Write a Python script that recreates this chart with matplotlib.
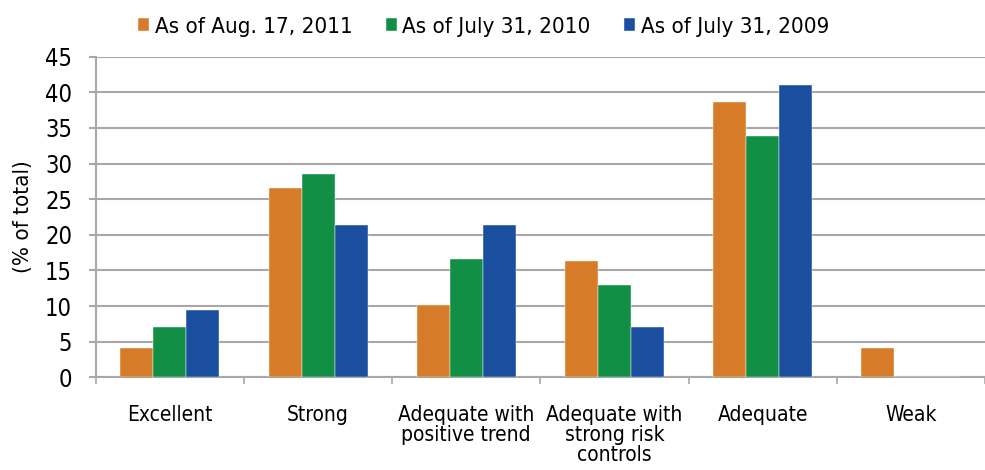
import matplotlib
matplotlib.use("Agg")
import matplotlib.pyplot as plt
import numpy as np

categories = ["Excellent", "Strong", "Adequate with\npositive trend",
              "Adequate with\nstrong risk\ncontrols", "Adequate", "Weak"]
series_names = ["As of Aug. 17, 2011", "As of July 31, 2010", "As of July 31, 2009"]
s2011 = [4.1, 26.5, 10.2, 16.3, 38.7, 4.1]
s2010 = [7.1, 28.5, 16.6, 13.0, 33.9, 0.0]
s2009 = [9.5, 21.4, 21.4, 7.1, 41.0, 0.0]
yticks = [0, 5, 10, 15, 20, 25, 30, 35, 40, 45]

colors = ["#D67B27", "#119045", "#1A4FA0"]
plt.rcParams['font.family'] = ['DejaVu Sans']
plt.rcParams['font.stretch'] = 'condensed'

fig = plt.figure(figsize=(9.85, 4.7), dpi=100)
ax = fig.add_axes([0.0972, 0.1972, 0.9028, 0.6822])

x = np.arange(len(categories))
w = 0.2225
for i, (vals, c, name) in enumerate(zip([s2011, s2010, s2009], colors, series_names)):
    ax.bar(x + (i - 1) * w, vals, width=w, color=c, label=name,
           edgecolor="white", linewidth=0.3, zorder=3)

ax.set_xlim(-0.5, len(categories) - 0.5)
ax.set_ylim(0, 45)
ax.set_yticks(yticks)
ax.set_yticklabels([str(t) for t in yticks], fontsize=17)
ax.yaxis.grid(True, color="#A8A8A8", linewidth=1.5, zorder=0)
ax.set_axisbelow(True)

ax.set_xticks(x)
ax.set_xticklabels(categories, fontsize=15, linespacing=1.0, va="top")
ax.set_xticks(np.arange(-0.5, len(categories)), minor=True)
ax.tick_params(axis="x", which="major", length=0, pad=20)
ax.tick_params(axis="x", which="minor", length=5, width=1.2, color="#A8A8A8")
ax.tick_params(axis="y", length=5, width=1.5, color="#A8A8A8", pad=12)

for s in ["top", "right"]:
    ax.spines[s].set_visible(False)
for s in ["left", "bottom"]:
    ax.spines[s].set_color("#A8A8A8")
    ax.spines[s].set_linewidth(1.5)

ax.set_ylabel("(% of total)", fontsize=16)
ax.yaxis.set_label_coords(-0.071, 0.5)

ax.legend(loc="lower center", bbox_to_anchor=(0.436, 1.035), ncol=3, frameon=False,
          fontsize=16, handlelength=0.5, handleheight=0.5, handletextpad=0.25,
          columnspacing=1.5, borderaxespad=0)

fig.savefig("out.png", dpi=100)
